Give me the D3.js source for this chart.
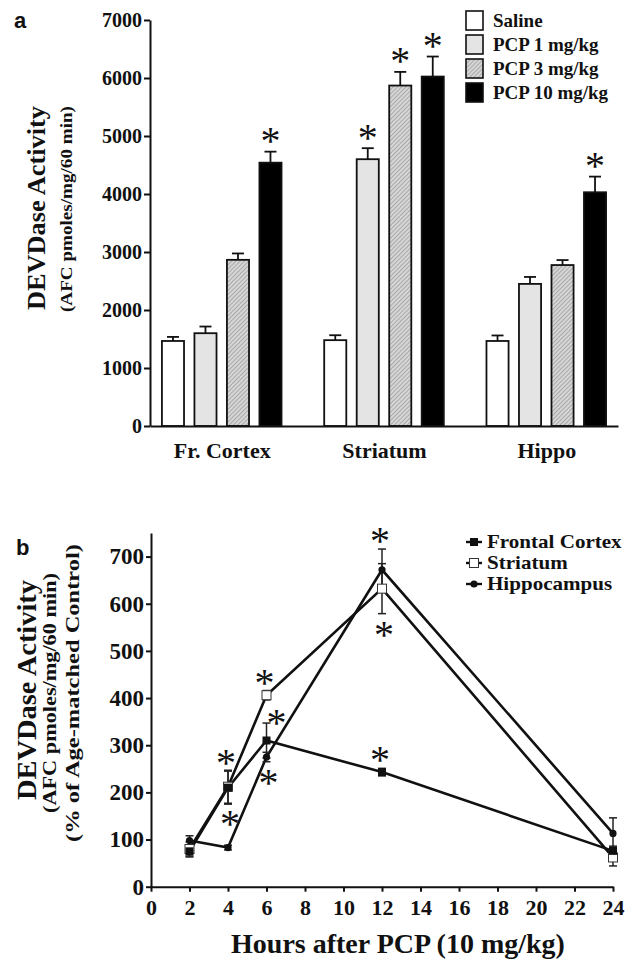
<!DOCTYPE html>
<html>
<head>
<meta charset="utf-8">
<script src="https://cdn.jsdelivr.net/npm/d3@7"></script>
<style>
  body { margin: 0; background: #fff; }
  text { font-family: "Liberation Serif", "Times New Roman", serif; font-weight: bold; fill: #111; }
  .axis path, .axis line { stroke: #111; stroke-width: 2; }
  .panel-letter { font-family: "Liberation Sans", Arial, sans-serif; }
</style>
</head>
<body>
<div id="chart"></div>
<script>
// panel a data
var regions = ['Fr. Cortex', 'Striatum', 'Hippo'];
var doses = ['Saline', 'PCP 1 mg/kg', 'PCP 3 mg/kg', 'PCP 10 mg/kg'];
var salineMean = [1466, 1480, 1466], salineErr = [70, 85, 95];
var pcp1Mean = [1600, 4600, 2450], pcp1Err = [115, 190, 120];
var pcp3Mean = [2865, 5870, 2775], pcp3Err = [110, 235, 86];
var pcp10Mean = [4540, 6025, 4030], pcp10Err = [190, 345, 270];
var pcp1Sig = [false, true, false], pcp3Sig = [false, true, false], pcp10Sig = [true, true, true];
var aTicks = [0, 1000, 2000, 3000, 4000, 5000, 6000, 7000];

// panel b data
var hours = [2, 4, 6, 12, 24];
var seriesNames = ['Frontal Cortex', 'Striatum', 'Hippocampus'];
var fcMean = [75, 210, 310, 243, 76], fcErr = [12, 35, 37, 8, 10];
var strMean = [80, 212, 406, 632, 62], strErr = [15, 35, 10, 53, 18];
var hipMean = [98, 83, 275, 672, 113], hipErr = [10, 5, 10, 44, 33];
var fcStar = ['', 'up', 'right', 'up', ''];
var strStar = ['', 'down', 'up', 'down', ''];
var hipStar = ['', '', 'down', 'up', ''];
var bTicksY = [0, 100, 200, 300, 400, 500, 600, 700];
var bTicksX = [0, 2, 4, 6, 8, 10, 12, 14, 16, 18, 20, 22, 24];

var svg = d3.select("#chart").append("svg")
    .attr("width", 643).attr("height", 960);

var defs = svg.append("defs");
var hatch = defs.append("pattern").attr("id", "hatch")
    .attr("patternUnits", "userSpaceOnUse").attr("width", 3).attr("height", 3)
    .attr("patternTransform", "rotate(45)");
hatch.append("rect").attr("width", 3).attr("height", 3).attr("fill", "#d6d6d6");
hatch.append("line").attr("x1", 0).attr("y1", 0).attr("x2", 0).attr("y2", 3)
    .attr("stroke", "#8a8a8a").attr("stroke-width", 1.2);

var doseFill = ['#ffffff', '#e4e4e4', 'url(#hatch)', '#000000'];

function star(g, x, y) {
    g.append("text").attr("x", x).attr("y", y + 19)
        .attr("text-anchor", "middle")
        .style("font-size", "40px").style("font-weight", "normal")
        .text("*");
}

// ---------- panel a ----------
var ya = d3.scaleLinear().domain([0, 7000]).range([426, 20]);
var x0 = d3.scalePoint().domain(regions).range([150, 618]).padding(0.442);
var x1 = d3.scaleBand().domain(doses).range([-65, 65]).paddingInner(0.32).paddingOuter(0.16);

var ga = svg.append("g");
ga.append("text").attr("class", "panel-letter").attr("x", 14).attr("y", 28)
    .style("font-size", "22px").text("a");

var barData = [];
var means = [salineMean, pcp1Mean, pcp3Mean, pcp10Mean];
var errs = [salineErr, pcp1Err, pcp3Err, pcp10Err];
var sigs = [[false, false, false], pcp1Sig, pcp3Sig, pcp10Sig];
doses.forEach(function(d, i) {
    regions.forEach(function(r, j) {
        barData.push({region: r, dose: d, k: i, mean: means[i][j], err: errs[i][j], sig: sigs[i][j]});
    });
});

var bars = ga.selectAll(".bar").data(barData).enter().append("g");
bars.append("line")
    .attr("x1", function(d) { return x0(d.region) + x1(d.dose) + x1.bandwidth() / 2; })
    .attr("x2", function(d) { return x0(d.region) + x1(d.dose) + x1.bandwidth() / 2; })
    .attr("y1", function(d) { return ya(d.mean); })
    .attr("y2", function(d) { return ya(d.mean + d.err); })
    .attr("stroke", "#111").attr("stroke-width", 1.8);
bars.append("line")
    .attr("x1", function(d) { return x0(d.region) + x1(d.dose) + x1.bandwidth() / 2 - 6; })
    .attr("x2", function(d) { return x0(d.region) + x1(d.dose) + x1.bandwidth() / 2 + 6; })
    .attr("y1", function(d) { return ya(d.mean + d.err); })
    .attr("y2", function(d) { return ya(d.mean + d.err); })
    .attr("stroke", "#111").attr("stroke-width", 1.8);
bars.append("rect")
    .attr("x", function(d) { return x0(d.region) + x1(d.dose); })
    .attr("width", x1.bandwidth())
    .attr("y", function(d) { return ya(d.mean); })
    .attr("height", function(d) { return ya(0) - ya(d.mean); })
    .attr("fill", function(d) { return doseFill[d.k]; })
    .attr("stroke", "#111").attr("stroke-width", 1.8);
barData.filter(function(d) { return d.sig; }).forEach(function(d) {
    star(ga, x0(d.region) + x1(d.dose) + x1.bandwidth() / 2, ya(d.mean + d.err) - 16.5);
});

ga.append("g").attr("class", "axis").attr("transform", "translate(150,0)")
    .call(d3.axisLeft(ya).tickValues(aTicks).tickSize(6).tickSizeOuter(0).tickFormat(d3.format("d")))
    .selectAll("text").style("font-size", "20px").attr("x", -8);
var xa = ga.append("g").attr("class", "axis").attr("transform", "translate(0,426)")
    .call(d3.axisBottom(x0).tickSize(0).tickSizeOuter(0));
xa.selectAll("text").style("font-size", "22px").attr("y", 32).attr("dy", 0);
ga.selectAll(".axis").attr("font-family", null).attr("font-size", null);

ga.append("text").attr("transform", "translate(45,208) rotate(-90)")
    .attr("text-anchor", "middle").style("font-size", "26px")
    .attr("textLength", 204).attr("lengthAdjust", "spacingAndGlyphs").text("DEVDase Activity");
ga.append("text").attr("transform", "translate(72,209) rotate(-90)")
    .attr("text-anchor", "middle").style("font-size", "17px")
    .attr("textLength", 206).attr("lengthAdjust", "spacingAndGlyphs").text("(AFC pmoles/mg/60 min)");

var legA = ga.selectAll(".lega").data(doses).enter().append("g")
    .attr("transform", function(d, i) { return "translate(466," + (11 + i * 24) + ")"; });
legA.append("rect").attr("width", 17).attr("height", 19)
    .attr("fill", function(d, i) { return doseFill[i]; })
    .attr("stroke", "#111").attr("stroke-width", 1.6);
legA.append("text").attr("x", 27).attr("y", 16).style("font-size", "19px").text(function(d) { return d; });

// ---------- panel b ----------
var xb = d3.scaleLinear().domain([0, 24]).range([151, 613]);
var yb = d3.scaleLinear().domain([0, 750]).range([886.7, 533]);

var gb = svg.append("g");
gb.append("text").attr("class", "panel-letter").attr("x", 16).attr("y", 555)
    .style("font-size", "22px").text("b");

gb.append("g").attr("class", "axis").attr("transform", "translate(151,0)")
    .call(d3.axisLeft(yb).tickValues(bTicksY).tickSize(5).tickSizeOuter(0))
    .selectAll("text").style("font-size", "23px").attr("x", -7);
gb.append("g").attr("class", "axis").attr("transform", "translate(0,886.7)")
    .call(d3.axisBottom(xb).tickValues(bTicksX).tickSize(5).tickSizeOuter(0))
    .selectAll("text").style("font-size", "22px").attr("y", 28).attr("dy", 0);
gb.selectAll(".axis").attr("font-family", null).attr("font-size", null);

gb.append("text").attr("transform", "translate(36,690) rotate(-90)")
    .attr("text-anchor", "middle").style("font-size", "27px")
    .attr("textLength", 220).attr("lengthAdjust", "spacingAndGlyphs").text("DEVDase Activity");
gb.append("text").attr("transform", "translate(56,693) rotate(-90)")
    .attr("text-anchor", "middle").style("font-size", "19px")
    .attr("textLength", 240).attr("lengthAdjust", "spacingAndGlyphs").text("(AFC pmoles/mg/60 min)");
gb.append("text").attr("transform", "translate(79,693) rotate(-90)")
    .attr("text-anchor", "middle").style("font-size", "19px")
    .attr("textLength", 298).attr("lengthAdjust", "spacingAndGlyphs").text("(% of Age-matched Control)");
gb.append("text").attr("x", 398).attr("y", 953).attr("text-anchor", "middle")
    .style("font-size", "28px").text("Hours after PCP (10 mg/kg)");

var series = [
    {name: seriesNames[0], mean: fcMean, err: fcErr, stars: fcStar, shape: 'fsq'},
    {name: seriesNames[1], mean: strMean, err: strErr, stars: strStar, shape: 'osq'},
    {name: seriesNames[2], mean: hipMean, err: hipErr, stars: hipStar, shape: 'dot'}
];

var line = d3.line().x(function(d) { return xb(d.h); }).y(function(d) { return yb(d.v); });
series.forEach(function(s) {
    s.pts = hours.map(function(h, i) { return {h: h, v: s.mean[i], e: s.err[i], star: s.stars[i]}; });
    gb.append("path").datum(s.pts).attr("d", line)
        .attr("fill", "none").attr("stroke", "#111").attr("stroke-width", 2.6);
});

series.forEach(function(s) {
    s.pts.forEach(function(p) {
        var x = xb(p.h);
        gb.append("line").attr("x1", x).attr("x2", x)
            .attr("y1", yb(p.v - p.e)).attr("y2", yb(p.v + p.e))
            .attr("stroke", "#222").attr("stroke-width", 1.5);
        [p.v - p.e, p.v + p.e].forEach(function(v) {
            gb.append("line").attr("x1", x - 4).attr("x2", x + 4)
                .attr("y1", yb(v)).attr("y2", yb(v))
                .attr("stroke", "#222").attr("stroke-width", 1.5);
        });
    });
});

function marker(g, shape, x, y) {
    if (shape == 'fsq') {
        g.append("rect").attr("x", x - 4).attr("y", y - 4).attr("width", 8).attr("height", 8).attr("fill", "#111");
    } else if (shape == 'osq') {
        g.append("rect").attr("x", x - 4.5).attr("y", y - 4.5).attr("width", 9).attr("height", 9)
            .attr("fill", "#fff").attr("stroke", "#333").attr("stroke-width", 1);
    } else {
        g.append("circle").attr("cx", x).attr("cy", y).attr("r", 3.6).attr("fill", "#111");
    }
}

// striatum first so the filled squares sit on top where they overlap
[series[1], series[2], series[0]].forEach(function(s) {
    s.pts.forEach(function(p) { marker(gb, s.shape, xb(p.h), yb(p.v)); });
});

series.forEach(function(s) {
    s.pts.forEach(function(p) {
        var x = xb(p.h);
        if (p.star == 'up') star(gb, x - 2, yb(p.v + p.e) - 14);
        if (p.star == 'down') star(gb, x + 2, yb(p.v - p.e) + 15);
        if (p.star == 'right') star(gb, x + 10, yb(p.v + p.e) - 6);
    });
});

var legB = gb.selectAll(".legb").data(series).enter().append("g")
    .attr("transform", function(d, i) { return "translate(474," + (542 + i * 21) + ")"; });
legB.append("line").attr("x1", -8).attr("x2", 8).attr("stroke", "#111").attr("stroke-width", 2.4);
legB.each(function(d) { marker(d3.select(this), d.shape, 0, 0); });
// legend type in the reference is wide and tightly stacked: smaller font stretched sideways
legB.append("g").attr("transform", "translate(13,6) scale(1.17,1)")
    .append("text").style("font-size", "18px").text(function(d) { return d.name; });
</script>
</body>
</html>
